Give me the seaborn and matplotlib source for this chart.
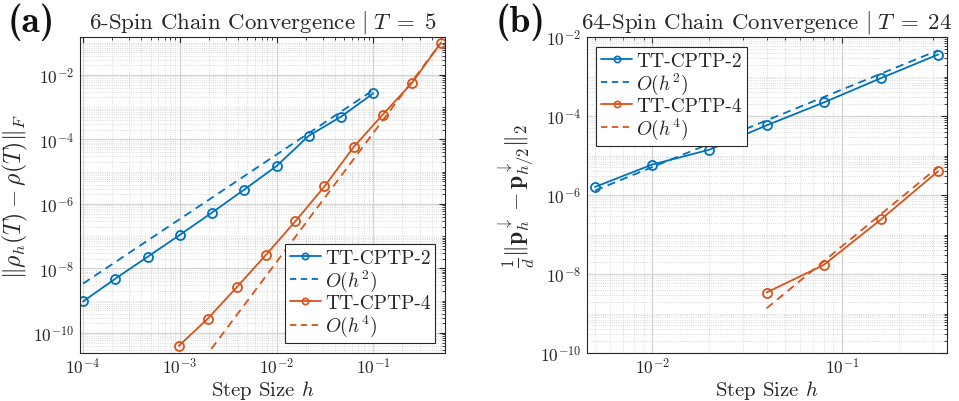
import numpy as np
import pandas as pd
import matplotlib
matplotlib.use("Agg")
import matplotlib.pyplot as plt
import matplotlib.ticker as mticker
from matplotlib.lines import Line2D
import seaborn as sns

# ---------------- data ----------------
# Panel (a): 6-spin chain, T = 5
h_a2 = [1e-4, 2.15e-4, 4.64e-4, 1e-3, 2.15e-3, 4.64e-3, 1e-2, 2.15e-2, 4.64e-2, 1e-1]
err_a2 = [9.5e-10, 4.8e-9, 2.3e-8, 1.1e-7, 5.4e-7, 2.8e-6, 1.5e-5, 1.3e-4, 5.1e-4, 2.7e-3]
ref_a2_h = [1e-4, 1e-1]
ref_a2 = [3.4e-9, 3.4e-3]

h_a4 = [9.77e-4, 1.95e-3, 3.91e-3, 7.81e-3, 1.5625e-2, 3.125e-2, 6.25e-2, 0.125, 0.25, 0.5]
err_a4 = [4.0e-11, 2.8e-10, 2.7e-9, 2.7e-8, 2.9e-7, 3.5e-6, 5.8e-5, 5.9e-4, 5.6e-3, 1.0e-1]
ref_a4_h = [9.77e-4, 0.5]
ref_a4 = [1.46e-12, 1.0e-1]

# Panel (b): 64-spin chain, T = 24
h_b2 = [0.005, 0.01, 0.02, 0.04, 0.08, 0.16, 0.32]
err_b2 = [1.6e-6, 5.9e-6, 1.4e-5, 5.8e-5, 2.2e-4, 9.1e-4, 3.6e-3]
ref_b2_h = [0.005, 0.32]
ref_b2 = [1.3e-6, 4.6e-3]

h_b4 = [0.04, 0.08, 0.16, 0.32]
err_b4 = [3.4e-9, 1.7e-8, 2.4e-7, 4.0e-6]
ref_b4_h = [0.04, 0.32]
ref_b4 = [1.35e-9, 5.1e-6]

labels = ["TT-CPTP-2", r"$O(h^2)$", "TT-CPTP-4", r"$O(h^4)$"]
titles = [r"6-Spin Chain Convergence $|\;T\;=\;5$", r"64-Spin Chain Convergence $|\;T\;=\;24$"]
panel_tags = ["(a)", "(b)"]
xlabel = r"Step Size $h$"
ylabels = [r"$\|\rho_h(T) - \rho(T)\|_F$",
           r"$\frac{1}{d}\|\mathbf{p}_h^{\downarrow} - \mathbf{p}_{h/2}^{\downarrow}\|_2$"]

BLUE = "#0072BD"
ORANGE = "#D95319"
DARK = "#262626"

# ---------------- style ----------------
sns.set_style("white")
plt.rcParams["font.family"] = ["cmr10", "DejaVu Serif"]
plt.rcParams["mathtext.fontset"] = "cm"
plt.rcParams["axes.formatter.use_mathtext"] = True
plt.rcParams["axes.unicode_minus"] = False

fig = plt.figure(figsize=(9.59, 4.02), dpi=100)
ax_a = fig.add_axes([80/959, 1-354/402, 365/959, 316/402])
ax_b = fig.add_axes([586.7/959, 1-354/402, 360/959, 316/402])

def draw(ax, h2, e2, rh2, r2, h4, e4, rh4, r4):
    for (hx, ey, rh, rv, col) in [(h2, e2, rh2, r2, BLUE), (h4, e4, rh4, r4, ORANGE)]:
        sns.lineplot(x=hx, y=ey, ax=ax, color=col, marker="o", markersize=6.5,
                     markerfacecolor="none", markeredgecolor=col, markeredgewidth=1.3,
                     linewidth=1.3, estimator=None, sort=True, legend=False)
        sns.lineplot(x=rh, y=rv, ax=ax, color=col, linestyle="--", linewidth=1.3,
                     estimator=None, legend=False)
        ax.lines[-1].set_dashes([4.5, 3])

def style(ax, ylim, xlim, yticks):
    ax.set_xscale("log")
    ax.set_yscale("log")
    ax.set_xlim(*xlim)
    ax.set_ylim(*ylim)
    ax.yaxis.set_major_locator(mticker.FixedLocator(yticks))
    ax.yaxis.set_minor_locator(mticker.LogLocator(base=10, subs=np.arange(1, 10), numticks=100))
    ax.xaxis.set_major_locator(mticker.LogLocator(base=10, numticks=100))
    ax.xaxis.set_minor_locator(mticker.LogLocator(base=10, subs=np.arange(2, 10), numticks=100))
    ax.yaxis.set_minor_formatter(mticker.NullFormatter())
    ax.xaxis.set_minor_formatter(mticker.NullFormatter())
    ax.grid(True, which="major", color="#d4d4d4", linewidth=0.9, linestyle="-")
    ax.grid(True, which="minor", color="#cfcfcf", linewidth=0.6, linestyle=":")
    ax.set_axisbelow(True)
    for s in ax.spines.values():
        s.set_visible(True)
        s.set_color(DARK)
        s.set_linewidth(0.8)
    ax.tick_params(which="both", direction="in", top=True, right=True,
                   color=DARK, labelsize=12.5, labelcolor=DARK)
    ax.tick_params(which="major", length=4, pad=4)
    ax.tick_params(axis="x", which="major", pad=2.5)
    ax.tick_params(which="minor", length=2)
    ax.set_xlabel(xlabel, fontsize=15, color=DARK)
    ax.xaxis.set_label_coords(0.5, -(379 - 354) / 316)
    ax.xaxis.label.set_va("top")

draw(ax_a, h_a2, err_a2, ref_a2_h, ref_a2, h_a4, err_a4, ref_a4_h, ref_a4)
draw(ax_b, h_b2, err_b2, ref_b2_h, ref_b2, h_b4, err_b4, ref_b4_h, ref_b4)

style(ax_a, (2.4e-11, 0.15), (0.93e-4, 0.55), [1e-10, 1e-8, 1e-6, 1e-4, 1e-2])
style(ax_b, (1e-10, 1e-2), (4.52e-3, 0.355), [1e-10, 1e-8, 1e-6, 1e-4, 1e-2])

ax_a.set_ylabel(ylabels[0], fontsize=17, color=DARK, labelpad=2)
ax_b.set_ylabel(ylabels[1], fontsize=17, color=DARK, labelpad=2)

for ax, t in zip([ax_a, ax_b], titles):
    ax.set_title(t, fontsize=16.5, color=DARK, pad=7)

fig.text(31/959, 1-22/402, panel_tags[0], fontsize=27, fontweight="bold",
         family="cmb10", ha="center", va="center", color="#111111")
fig.text(521/959, 1-22/402, panel_tags[1], fontsize=27, fontweight="bold",
         family="cmb10", ha="center", va="center", color="#111111")

def make_handles():
    return [
        Line2D([], [], color=BLUE, marker="o", markerfacecolor="none", markersize=4.5,
               markeredgewidth=1.2, linewidth=1.3),
        Line2D([], [], color=BLUE, linestyle=(0, (3.5, 2.5)), linewidth=1.3),
        Line2D([], [], color=ORANGE, marker="o", markerfacecolor="none", markersize=4.5,
               markeredgewidth=1.2, linewidth=1.3),
        Line2D([], [], color=ORANGE, linestyle=(0, (3.5, 2.5)), linewidth=1.3),
    ]

for ax, loc in [(ax_a, "lower right"), (ax_b, "upper left")]:
    leg = ax.legend(make_handles(), labels, loc=loc, fontsize=14, frameon=True,
                    fancybox=False, framealpha=1, edgecolor=DARK,
                    handlelength=1.6, handletextpad=0.2, borderpad=0.25,
                    labelspacing=0.05, borderaxespad=0.5)
    leg.get_frame().set_linewidth(0.8)

fig.savefig("out.png", dpi=100, facecolor="white")
